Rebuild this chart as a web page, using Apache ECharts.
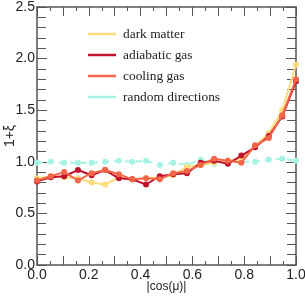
<!DOCTYPE html>
<html><head><meta charset="utf-8">
<script src="https://cdn.jsdelivr.net/npm/echarts@6/dist/echarts.min.js"></script>
<style>html,body{margin:0;padding:0;background:#fff}#c{width:305px;height:305px}</style>
</head><body><div id="c"></div>
<script>
var xs = [0, 0.053, 0.105, 0.158, 0.211, 0.263, 0.316, 0.368, 0.421, 0.474, 0.526, 0.579, 0.632, 0.684, 0.737, 0.789, 0.842, 0.895, 0.947, 1.0];
var darkMatter = [0.84, 0.86, 0.85, 0.84, 0.80, 0.78, 0.85, 0.83, 0.84, 0.85, 0.87, 0.95, 0.97, 0.99, 1.01, 1.02, 1.15, 1.28, 1.50, 1.94];
var adiabaticGas = [0.81, 0.85, 0.86, 0.92, 0.87, 0.92, 0.84, 0.83, 0.78, 0.86, 0.88, 0.89, 0.99, 1.01, 0.98, 1.06, 1.14, 1.25, 1.44, 1.78];
var coolingGas = [0.82, 0.86, 0.90, 0.82, 0.89, 0.92, 0.88, 0.83, 0.84, 0.83, 0.89, 0.91, 0.97, 1.03, 1.01, 0.99, 1.16, 1.23, 1.45, 1.80];
var randomDirections = [0.99, 1.00, 0.99, 0.99, 0.99, 1.00, 1.01, 1.00, 1.01, 0.97, 0.99, 0.97, 1.02, 0.98, 1.01, 1.00, 1.00, 1.02, 1.03, 1.01];
var names = ['dark matter', 'adiabatic gas', 'cooling gas', 'random directions'];
var colors = ['#fddc7e', '#c0122c', '#f4664a', '#a6f3e4'];

function pairs(ys){ return xs.map(function(x,i){return [x, ys[i]];}); }
var axisColor = '#555';
var chart = echarts.init(document.getElementById('c'));
function mk(name, ys, color, dashed, z){
  return {name:name, type:'line', data:pairs(ys), symbol:'circle', symbolSize:6, z:z,
    lineStyle:{color:color, width:2, type: dashed ? [6,5] : 'solid'},
    itemStyle:{color:color}};
}
function xAx(pos, labels){
  return {
    type:'value', min:0, max:1, interval:0.1, position:pos,
    axisLine:{onZero:false, lineStyle:{color:axisColor, width:1.5}},
    axisTick:{inside:true, length:9, lineStyle:{color:axisColor, width:1}},
    minorTick:{show:true, splitNumber:2, length:4, lineStyle:{color:axisColor, width:1}},
    splitLine:{show:false},
    axisLabel: labels ? {fontFamily:'Liberation Sans', fontSize:14, color:'#222', margin:3,
      formatter:function(v){var k=Math.round(v*10); return k%2===0 ? (k/10).toFixed(1) : '';}} : {show:false}
  };
}
function yAx(pos, labels){
  return {
    type:'value', min:0, max:2.5, interval:0.5, position:pos,
    axisLine:{show:true, onZero:false, lineStyle:{color:axisColor, width:1.5}},
    axisTick:{show:true, inside:true, length:10, lineStyle:{color:axisColor, width:1}},
    minorTick:{show:true, splitNumber:5, length:9, lineStyle:{color:axisColor, width:1}},
    splitLine:{show:false},
    axisLabel: labels ? {fontFamily:'Liberation Sans', fontSize:14, color:'#222', margin:2,
      formatter:function(v){return v.toFixed(1);}} : {show:false}
  };
}
var xb = xAx('bottom', true);
xb.name = '|cos(\u03bc)|'; xb.nameLocation = 'middle'; xb.nameGap = 16; xb.nameMoveOverlap = false;
xb.nameTextStyle = {fontFamily:'Liberation Sans', fontSize:12, color:'#222'};
var yl = yAx('left', true);
yl.name = '1+\u03be'; yl.nameLocation = 'middle'; yl.nameGap = 20; yl.nameMoveOverlap = false;
yl.nameTextStyle = {fontFamily:'Liberation Sans', fontSize:14, color:'#222'};
chart.setOption({
  animation:false,
  grid:{left:37, right:9, top:7, bottom:40, outerBoundsMode:'none', containLabel:false},
  legend:{
    data: names.map(function(n,i){return {name:n, icon:'path://M0,0L28,0L28,2.5L0,2.5Z', itemStyle:{color:colors[i]}};}),
    orient:'vertical', left:88, top:26, padding:0, itemWidth:28, itemHeight:3, itemGap:5,
    textStyle:{fontFamily:'Liberation Serif', fontSize:13.4, color:'#222', padding:[0,0,0,2], lineHeight:16}
  },
  xAxis:[xb, xAx('top', false)],
  yAxis:[yl, yAx('right', false)],
  series:[
    mk(names[3], randomDirections, colors[3], true, 1),
    mk(names[0], darkMatter, colors[0], false, 2),
    mk(names[1], adiabaticGas, colors[1], false, 3),
    mk(names[2], coolingGas, colors[2], false, 4)
  ]
});
</script></body></html>
